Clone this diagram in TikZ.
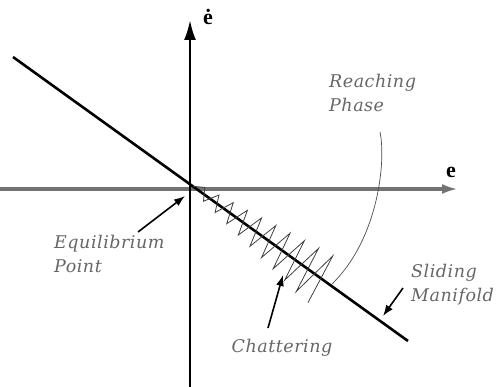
\documentclass[tikz,border=0pt]{standalone}
\usepackage{fontspec}
\setmainfont{Liberation Serif}
\newfontfamily\labfont{DejaVu Serif}[LetterSpace=3]
\usetikzlibrary{arrows.meta,calc}
\begin{document}
\begin{tikzpicture}[x=1pt,y=-1pt,
  axis/.style={line width=2.4pt,-{Latex[length=20pt,width=12pt]}},
  haxis/.style={line width=3.4pt,black!55,-{Latex[length=16pt,width=10pt]}},
  manifold/.style={line width=2.6pt},
  callout/.style={line width=1.6pt,-{Latex[length=11pt,width=8pt]}},
  lbl/.style={font=\labfont\itshape\fontsize{17.5}{24}\selectfont,text=black!60,inner sep=0pt,align=left},
  axlbl/.style={font=\bfseries\fontsize{22}{22}\selectfont,inner sep=0pt},
  zig/.style={line width=0.8pt,black!75,line join=miter}]
\useasboundingbox (0,0) rectangle (502,387);
\coordinate (O) at (190,184);
\coordinate (VB) at (190,387);
\coordinate (VT) at (190,20);
\coordinate (HL) at (0,189);
\coordinate (HR) at (458,189);
\coordinate (MA) at (13,57);
\coordinate (MB) at (408,341);
% axes
\draw[haxis] (HL) -- (HR);
\draw[axis] (VB) -- (VT);
\draw[manifold] (MA) -- (MB);
% axis labels
\node[axlbl] (edot) at (208,17) {ė};
\node[axlbl] (e) at (451,172) {e};
% chattering zigzag
\begin{scope}[shift={(O)},x={(0.813pt,-0.582pt)},y={(0.582pt,0.813pt)}]
\draw[zig] (4,0)
  foreach \k in {0,...,9}{
    -- ({14+16*\k},{4+0.13*(14+16*\k)}) -- ({21+16*\k},{-(3+0.15*(21+16*\k))})
  };
\end{scope}
% labels
\node[lbl,anchor=north west] (reach) at (329,74) {Reaching\\Phase};
\node[lbl,anchor=north west] (equil) at (54,235) {Equilibrium\\Point};
\node[lbl,anchor=north west] (slide) at (411,264) {Sliding\\Manifold};
\node[lbl] (chat) at (282,348) {Chattering};
% callouts
\coordinate (eqs) at (138,232); \coordinate (eqe) at (185,196);
\draw[callout] (eqs) -- (eqe);
\coordinate (sls) at (403,288); \coordinate (sle) at (383,316);
\draw[callout] (sls) -- (sle);
\coordinate (chs) at (268,328); \coordinate (che) at (283,275);
\draw[callout] (chs) -- (che);
\coordinate (rcs) at (380,132); \coordinate (rce) at (332,284);
\draw[line width=0.7pt,black!70] (rcs) .. controls (386,160) and (379,238) .. (rce);
\end{tikzpicture}
\end{document}
